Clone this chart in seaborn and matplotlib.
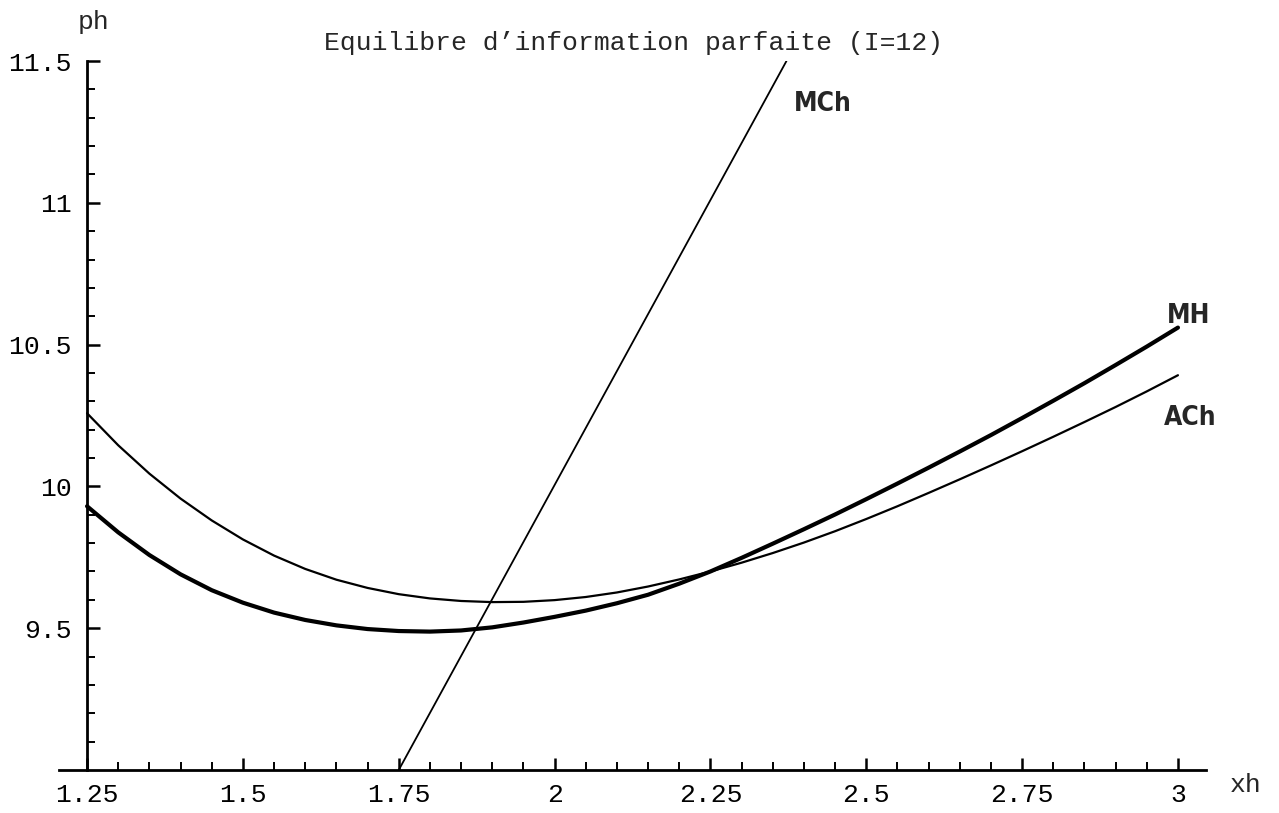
import matplotlib
matplotlib.use("Agg")
import matplotlib.pyplot as plt
import seaborn as sns
import pandas as pd

# ---- data ----
xh = [1.25, 1.30, 1.35, 1.40, 1.45, 1.50, 1.55, 1.60, 1.65, 1.70, 1.75, 1.80,
      1.85, 1.90, 1.95, 2.00, 2.05, 2.10, 2.15, 2.20, 2.25, 2.30, 2.35, 2.40,
      2.45, 2.50, 2.55, 2.60, 2.65, 2.70, 2.75, 2.80, 2.85, 2.90, 2.95, 3.00]

mh = [9.930, 9.838, 9.758, 9.690, 9.634, 9.590, 9.555, 9.529, 9.510, 9.497,
      9.490, 9.488, 9.492, 9.503, 9.520, 9.540, 9.562, 9.588, 9.618, 9.657,
      9.700, 9.748, 9.798, 9.849, 9.901, 9.955, 10.010, 10.066, 10.123, 10.181,
      10.241, 10.302, 10.364, 10.428, 10.493, 10.560]

ach = [10.258, 10.145, 10.045, 9.957, 9.880, 9.813, 9.756, 9.709, 9.671, 9.642,
       9.620, 9.605, 9.596, 9.592, 9.593, 9.599, 9.610, 9.626, 9.647, 9.672,
       9.700, 9.731, 9.765, 9.802, 9.842, 9.885, 9.930, 9.977, 10.025, 10.074,
       10.124, 10.175, 10.227, 10.280, 10.335, 10.392]

mch_x = [1.75, 2.372]
mch_y = [9.0, 11.5]

x_major = [1.25, 1.5, 1.75, 2.0, 2.25, 2.5, 2.75, 3.0]
x_major_labels = ["1.25", "1.5", "1.75", "2", "2.25", "2.5", "2.75", "3"]
y_major = [9.5, 10.0, 10.5, 11.0, 11.5]
y_major_labels = ["9.5", "10", "10.5", "11", "11.5"]

title = "Equilibre d\u2019information parfaite (I=12)"

# ---- styling ----
sns.set_theme(style="white")
mono = ["Liberation Mono", "DejaVu Sans Mono"]
plt.rcParams["font.family"] = mono

fig = plt.figure(figsize=(12.79, 8.13), dpi=100)
ax = fig.add_axes([59 / 1279, 43 / 813, (1206 - 59) / 1279, 709 / 813])

df_mh = pd.DataFrame({"xh": xh, "ph": mh})
df_ach = pd.DataFrame({"xh": xh, "ph": ach})
df_mch = pd.DataFrame({"xh": mch_x, "ph": mch_y})

sns.lineplot(data=df_mh, x="xh", y="ph", ax=ax, color="black", lw=3.0, sort=False)
sns.lineplot(data=df_ach, x="xh", y="ph", ax=ax, color="black", lw=1.6, sort=False)
sns.lineplot(data=df_mch, x="xh", y="ph", ax=ax, color="black", lw=1.3, sort=False)

ax.set_xlim(1.205, 3.045)
ax.set_ylim(9.0, 11.5)
ax.set_xlabel("")
ax.set_ylabel("")

for s in ["top", "right"]:
    ax.spines[s].set_visible(False)
ax.spines["left"].set_position(("data", 1.25))
for s in ["left", "bottom"]:
    ax.spines[s].set_linewidth(2.0)
    ax.spines[s].set_color("black")

ax.set_xticks(x_major, x_major_labels)
ax.set_yticks(y_major, y_major_labels)
ax.set_xticks([round(1.25 + 0.05 * i, 2) for i in range(36)
               if round(1.25 + 0.05 * i, 2) not in x_major], minor=True)
ax.set_yticks([round(9.1 + 0.1 * i, 1) for i in range(25)
               if round(9.1 + 0.1 * i, 1) not in y_major], minor=True)

ax.tick_params(axis="both", which="major", direction="in", length=9, width=1.8,
               color="black", labelsize=19, labelcolor="black")
ax.tick_params(axis="both", which="minor", direction="in", length=5.5, width=1.4,
               color="black")
ax.tick_params(axis="x", which="major", pad=9)
ax.tick_params(axis="y", which="major", pad=11)
ax.tick_params(axis="both", which="both", bottom=True, left=True)

fig.text(634 / 1279, 1 - 43 / 813, title, ha="center", va="center",
         fontsize=19, family=mono)
fig.text(94 / 1279, 1 - 22 / 813, "ph", ha="center", va="center",
         fontsize=19, family=mono)
fig.text(1246 / 1279, 1 - 785 / 813, "xh", ha="center", va="center",
         fontsize=19, family=mono)

hand = dict(ha="center", va="center", fontsize=19, fontweight="bold",
            family=["DejaVu Sans"], fontstretch="condensed")
fig.text(823 / 1279, 1 - 104 / 813, "MCh", **hand)
fig.text(1189 / 1279, 1 - 316 / 813, "MH", **hand)
fig.text(1190 / 1279, 1 - 418 / 813, "ACh", **hand)

fig.savefig("out.png", dpi=100, facecolor="white")
